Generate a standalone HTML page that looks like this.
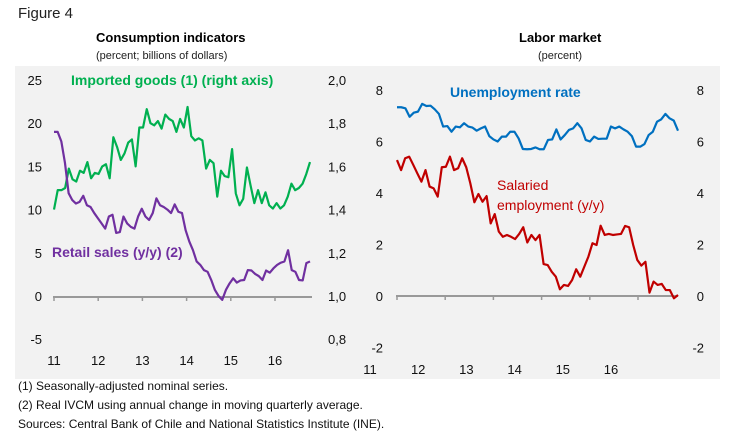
<!DOCTYPE html>
<html><head><meta charset="utf-8">
<style>
body{margin:0;width:744px;height:442px;background:#fff;font-family:"Liberation Sans",sans-serif;overflow:hidden;position:relative}
.t{position:absolute;white-space:nowrap}
</style></head><body>
<div class="t" style="left:18px;top:5px;font-size:15px;color:#222">Figure 4</div>
<div class="t" style="left:96px;top:30px;font-size:13px;font-weight:bold;color:#000">Consumption indicators</div>
<div class="t" style="left:96px;top:50px;font-size:11px;color:#222">(percent; billions of dollars)</div>
<div class="t" style="left:519px;top:30px;font-size:13px;font-weight:bold;color:#000">Labor market</div>
<div class="t" style="left:538px;top:50px;font-size:11px;color:#222">(percent)</div>
<svg id="svg" style="position:absolute;left:0;top:0" width="744" height="442"></svg>
<div class="t" style="left:18px;top:379px;font-size:12px;color:#111">(1) Seasonally-adjusted nominal series.</div>
<div class="t" style="left:18px;top:398px;font-size:12px;color:#111">(2) Real IVCM using  annual change in moving quarterly average.</div>
<div class="t" style="left:18px;top:417px;font-size:12px;color:#111">Sources: Central Bank of Chile and National Statistics Institute (INE).</div>
<script>
const years=["11","12","13","14","15","16"];
const leftTicks=[25,20,15,10,5,0,-5];
const rightTicksL=["2,0","1,8","1,6","1,4","1,2","1,0","0,8"];
const laborTicks=[8,6,4,2,0,-2];
const imported=[1.40,1.49,1.49,1.50,1.59,1.54,1.53,1.58,1.57,1.62,1.545,1.57,1.565,1.60,1.61,1.545,1.735,1.69,1.63,1.66,1.71,1.725,1.60,1.78,1.78,1.865,1.80,1.79,1.81,1.775,1.84,1.82,1.81,1.76,1.82,1.78,1.875,1.74,1.72,1.73,1.72,1.59,1.63,1.615,1.46,1.58,1.555,1.55,1.68,1.475,1.42,1.45,1.595,1.51,1.43,1.49,1.43,1.48,1.42,1.405,1.43,1.405,1.42,1.46,1.52,1.49,1.50,1.52,1.565,1.62];
const retail=[19.0,19.0,17.9,15.4,11.9,11.1,10.7,10.9,11.6,10.5,10.3,9.6,9.0,8.4,7.8,9.2,9.4,7.3,7.4,9.2,8.4,8.0,7.8,9.2,10.1,9.2,8.8,9.6,11.3,10.5,10.3,10.0,9.6,10.6,9.75,9.6,7.6,6.3,5.3,4.0,3.6,3.0,2.8,1.85,0.7,0.0,-0.45,0.7,1.45,2.05,1.55,1.8,1.85,3.0,2.95,2.55,2.3,1.85,2.95,2.7,3.2,3.6,3.85,4.0,5.3,3.0,2.8,1.85,1.8,3.8,4.0];
const unemp=[7.33,7.33,7.29,6.96,7.12,7.16,7.46,7.38,7.39,7.25,7.07,6.58,6.60,6.38,6.58,6.55,6.71,6.58,6.54,6.42,6.51,6.58,6.21,6.08,6.0,6.19,6.19,6.38,6.38,6.12,5.71,5.70,5.71,5.77,5.70,5.70,6.06,6.08,6.47,6.08,6.25,6.45,6.51,6.71,6.51,6.06,6.0,6.19,6.10,6.11,6.11,6.58,6.51,6.58,6.47,6.38,6.21,5.80,5.80,5.90,6.25,6.38,6.77,6.86,7.07,6.90,6.81,6.42];
const salaried=[5.28,4.89,5.35,5.41,5.09,4.76,4.44,4.89,4.25,4.18,3.86,5.0,5.02,5.41,4.89,4.96,5.35,5.0,4.38,3.64,3.96,3.66,3.88,2.82,3.18,2.50,2.30,2.37,2.30,2.21,2.41,2.67,2.08,2.37,2.17,2.37,1.24,1.20,0.94,0.75,0.26,0.43,0.39,0.62,1.04,0.75,1.14,1.53,2.05,1.98,2.73,2.37,2.41,2.37,2.39,2.41,2.72,2.67,1.98,1.40,1.18,1.33,0.13,0.56,0.43,0.47,0.23,0.23,-0.09,0.04];

const NS="http://www.w3.org/2000/svg";
const svg=document.getElementById('svg');
function mk(tag,attrs,parent){const e=document.createElementNS(NS,tag);for(const k in attrs)e.setAttribute(k,attrs[k]);(parent||svg).appendChild(e);return e;}
function txt(x,y,s,attrs){const e=mk('text',Object.assign({x:x,y:y,'font-size':13,'font-family':'Liberation Sans, sans-serif',fill:'#111'},attrs||{}));e.textContent=s;return e;}

const bg=mk('rect',{x:15,y:66,width:705,height:313,fill:'#f2f2f2'});



// Left chart scales
const Lx=i=>54+i*(310-54)/69;
const Ly=v=>296-v*8.64;
const LyR=v=>80+(2.0-v)/0.2*43.2;
leftTicks.forEach(v=>{const t=txt(42,Ly(v)+5,String(v),{'text-anchor':'end'});

});
rightTicksL.forEach((s,i)=>{const t=txt(328,80+i*43.2+5,s,{'text-anchor':'start'});

});
const ax1=mk('line',{x1:53,y1:297,x2:312,y2:297,stroke:'#999','stroke-width':2});


years.forEach((y,i)=>{const x=54+i*44.2;mk('line',{x1:x,y1:297,x2:x,y2:301,stroke:'#999','stroke-width':1.5});
const t=txt(x,365,y,{'text-anchor':'middle'});

});
const gp=mk('polyline',{points:imported.map((v,i)=>Lx(i)+','+LyR(v)).join(' '),fill:'none',stroke:'#00b050','stroke-width':2.2,'stroke-linejoin':'round'});


const rp=mk('polyline',{points:retail.map((v,i)=>Lx(i*69/(retail.length-1))+','+Ly(v)).join(' '),fill:'none',stroke:'#7030a0','stroke-width':2.2,'stroke-linejoin':'round'});


const l1=txt(71,85,'Imported goods (1) (right axis)',{fill:'#00b050','font-weight':'bold','font-size':14});


const l2=txt(52,257,'Retail sales (y/y) (2)',{fill:'#7030a0','font-weight':'bold','font-size':14});



// Right chart
const Rx=i=>397+i*(678-397)/69;
const Ry=v=>296-v*25.75;
laborTicks.forEach(v=>{const a=txt(383,Ry(v)+5,String(v),{'text-anchor':'end'});


const b=txt(704,Ry(v)+5,String(v),{'text-anchor':'end'});

});
const ax2=mk('line',{x1:396,y1:296,x2:678,y2:296,stroke:'#999','stroke-width':2});


years.forEach((y,i)=>{const x=397+i*48.2;mk('line',{x1:x,y1:296,x2:x,y2:300,stroke:'#999','stroke-width':1.5});
const t=txt(x-27,374,y,{'text-anchor':'middle'});

});
const up=mk('polyline',{points:unemp.map((v,i)=>Rx(i*69/(unemp.length-1))+','+Ry(v)).join(' '),fill:'none',stroke:'#0070c0','stroke-width':2.2,'stroke-linejoin':'round'});


const sp=mk('polyline',{points:salaried.map((v,i)=>Rx(i)+','+Ry(v)).join(' '),fill:'none',stroke:'#c00000','stroke-width':2.2,'stroke-linejoin':'round'});


const l3=txt(450,97,'Unemployment  rate',{fill:'#0070c0','font-weight':'bold','font-size':14});


const l4=txt(497,190,'Salaried',{fill:'#c00000','font-size':14});


const l5=txt(497,210,'employment  (y/y)',{fill:'#c00000','font-size':14});


</script>
</body></html>
